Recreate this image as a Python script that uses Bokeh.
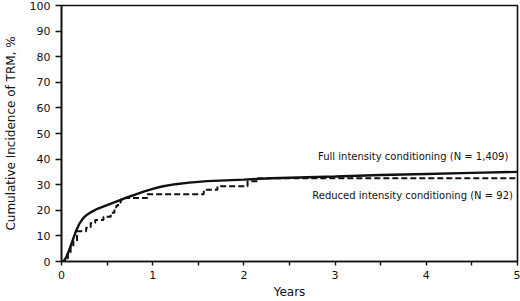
from bokeh.plotting import figure
from bokeh.models import Range1d, FixedTicker
from bokeh.core.properties import value
from bokeh.embed import file_html
from bokeh.resources import INLINE

# Full intensity conditioning (N = 1,409)
full_t = [0, 0.02, 0.05, 0.08, 0.10, 0.13, 0.16, 0.20, 0.24, 0.28, 0.33, 0.40, 0.50,
          0.60, 0.70, 0.80, 0.90, 1.00, 1.10, 1.25, 1.40, 1.60, 1.80, 2.00, 2.30,
          2.60, 3.00, 3.50, 4.00, 4.50, 5.00]
full_v = [0, 0, 1.5, 4.0, 6.0, 9.0, 12.0, 15.0, 17.0, 18.3, 19.4, 20.7, 22.0,
          23.4, 24.8, 26.0, 27.3, 28.4, 29.3, 30.2, 30.8, 31.4, 31.7, 32.0, 32.5,
          32.8, 33.2, 33.8, 34.2, 34.6, 35.0]

# Reduced intensity conditioning (N = 92), step function
red_t = [0, 0.04, 0.07, 0.10, 0.13, 0.17, 0.27, 0.32, 0.37, 0.46, 0.54, 0.58,
         0.60, 0.62, 0.65, 0.69, 0.94, 1.56, 1.71, 2.04, 2.15, 5.00]
red_v = [0, 1.2, 3.5, 5.5, 8.0, 11.8, 13.2, 15.0, 16.2, 17.5, 19.0, 20.5,
         21.8, 23.0, 24.2, 24.8, 26.3, 28.0, 29.4, 31.3, 32.5, 32.5]

x_ticks = [0, 1, 2, 3, 4, 5]
x_minor = [0.5, 1.5, 2.5, 3.5, 4.5]
y_ticks = [0, 10, 20, 30, 40, 50, 60, 70, 80, 90, 100]

FONT = "DejaVu Sans"
INK = "#111111"

p = figure(width=520, height=301, output_backend="svg", toolbar_location=None,
           x_range=Range1d(0, 5), y_range=Range1d(0, 100),
           min_border_left=61, min_border_right=3, min_border_top=5, min_border_bottom=39)

p.xgrid.visible = False
p.ygrid.visible = False
p.outline_line_color = INK
p.outline_line_width = 1.6
p.background_fill_color = "white"
p.border_fill_color = "white"

p.line(full_t, full_v, line_color=INK, line_width=2.4)
p.step(red_t, red_v, mode="after", line_color=INK, line_width=2.0, line_dash="6 3")

p.text(x=[4.90], y=[41.2], text=["Full intensity conditioning (N = 1,409)"],
       text_font=value(FONT), text_font_size="10px", text_align="right",
       text_baseline="middle", text_color=INK)
p.text(x=[4.95], y=[25.7], text=["Reduced intensity conditioning (N = 92)"],
       text_font=value(FONT), text_font_size="10px", text_align="right",
       text_baseline="middle", text_color=INK)

p.xaxis.ticker = FixedTicker(ticks=x_ticks, minor_ticks=x_minor)
p.yaxis.ticker = FixedTicker(ticks=y_ticks)

for ax in (p.xaxis[0], p.yaxis[0]):
    ax.axis_line_color = INK
    ax.axis_line_width = 1.6
    ax.major_tick_line_color = INK
    ax.major_tick_line_width = 1.4
    ax.major_tick_in = 0
    ax.major_label_text_font = FONT
    ax.major_label_text_font_size = "11px"
    ax.major_label_text_color = INK
    ax.axis_label_text_font = FONT
    ax.axis_label_text_font_size = "12px"
    ax.axis_label_text_font_style = "normal"
    ax.axis_label_text_color = INK

p.xaxis.major_tick_out = 4
p.xaxis.minor_tick_out = 4
p.xaxis.minor_tick_in = 0
p.xaxis.minor_tick_line_color = INK
p.xaxis.minor_tick_line_width = 1.4
p.xaxis.major_label_standoff = 5
p.xaxis.axis_label = "Years"
p.xaxis.axis_label_standoff = 3

p.yaxis.major_tick_out = 6
p.yaxis.minor_tick_line_color = None
p.yaxis.major_label_standoff = 5
p.yaxis.axis_label = "Cumulative Incidence of TRM, %"
p.yaxis.axis_label_standoff = 9

open("out.html", "w").write(file_html(p, INLINE))
